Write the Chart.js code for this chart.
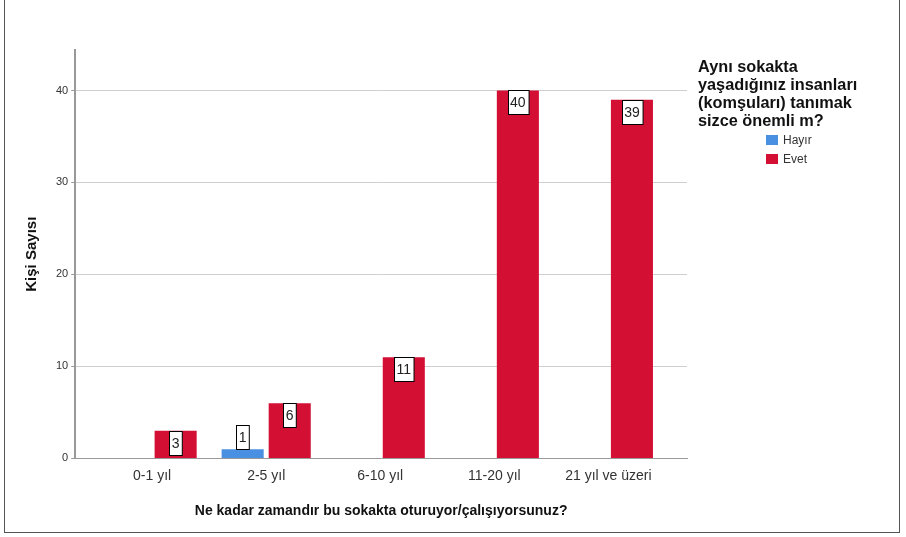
<!DOCTYPE html>
<html>
<head>
<meta charset="utf-8">
<script src="https://cdn.jsdelivr.net/npm/chart.js@4.4.1/dist/chart.umd.min.js"></script>
<style>
  html, body { margin: 0; padding: 0; background: #fff; }
  #wrap { position: relative; width: 906px; height: 537px; overflow: hidden; }
  #frame { position: absolute; left: 4px; top: -2px; width: 896px; height: 535px; border: 1px solid #555; box-sizing: border-box; pointer-events: none; }
  #legend { position: absolute; left: 698px; top: 57px; font-family: "Liberation Sans", Arial, sans-serif; color: #111; }
  #legend .title { font-weight: bold; font-size: 16.3px; line-height: 18px; }
  #legend .items { margin: 1px 0 0 68px; font-size: 12px; color: #333; }
  #legend .item { display: flex; align-items: center; height: 19px; }
  #legend .sw { width: 12px; height: 10px; margin-right: 5px; }
</style>
</head>
<body>
<div id="wrap">
  <canvas id="chart" width="906" height="537"></canvas>
  <div id="frame"></div>
  <div id="legend"></div>
</div>
<script>
// data
const categories = ['0-1 yıl', '2-5 yıl', '6-10 yıl', '11-20 yıl', '21 yıl ve üzeri'];
const hayir = [null, 1, null, null, null];
const evet = [3, 6, 11, 40, 39];
const yTicks = [0, 10, 20, 30, 40];

const legendTitle = ['Aynı sokakta', 'yaşadığınız insanları', '(komşuları) tanımak', 'sizce önemli m?'];
const colors = { hayir: '#4a90e2', evet: '#d40f34' };

// white boxed value labels, as SPSS draws them
const boxLabels = {
  id: 'boxLabels',
  afterDatasetsDraw(chart) {
    const ctx = chart.ctx;
    ctx.save();
    ctx.font = '14px "Liberation Sans", Arial, sans-serif';
    ctx.textAlign = 'center';
    ctx.textBaseline = 'middle';
    chart.data.datasets.forEach((ds, i) => {
      chart.getDatasetMeta(i).data.forEach((bar, j) => {
        const v = ds.data[j].y;
        if (v == null) return;
        const txt = String(v);
        const w = ctx.measureText(txt).width + 5, h = 24;
        const barH = bar.base - bar.y;
        let top = barH > h ? bar.y : bar.y - h;
        const left = Math.round(bar.x - w / 2) + 0.5;
        top = Math.round(top) + 0.5;
        ctx.fillStyle = '#fff';
        ctx.fillRect(left, top, w, h);
        ctx.strokeStyle = '#000';
        ctx.lineWidth = 1;
        ctx.strokeRect(left, top, w, h);
        ctx.fillStyle = '#222';
        ctx.fillText(txt, bar.x, top + h / 2 + 1);
      });
    });
    ctx.restore();
  }
};

const chart = new Chart(document.getElementById('chart'), {
  type: 'bar',
  data: {
    datasets: [
      { label: 'Hayır', data: hayir.map((v, i) => ({ x: i, y: v })), backgroundColor: colors.hayir },
      { label: 'Evet', data: evet.map((v, i) => ({ x: i, y: v })), backgroundColor: colors.evet }
    ]
  },
  options: {
    responsive: false,
    animation: false,
    layout: { padding: { left: 19, right: 219, top: 50, bottom: 13 } },
    categoryPercentage: 0.825,
    barPercentage: 0.894,
    plugins: { legend: { display: false }, tooltip: { enabled: false } },
    scales: {
      x: {
        type: 'linear',
        offset: false,
        min: -0.674, max: 4.689,
        afterBuildTicks(axis) { axis.ticks = categories.map((c, i) => ({ value: i })); },
        grid: { display: false, drawTicks: false },
        border: { color: '#999', width: 1 },
        ticks: { color: '#333', font: { family: '"Liberation Sans", Arial', size: 14 }, padding: 9,
          callback: v => categories[v] },
        title: { display: true, text: 'Ne kadar zamandır bu sokakta oturuyor/çalışıyorsunuz?', color: '#111',
          font: { family: '"Liberation Sans", Arial', size: 14, weight: 'bold' }, padding: { top: 10 } }
      },
      y: {
        min: 0, max: 44.4,
        afterBuildTicks(axis) { axis.ticks = yTicks.map(v => ({ value: v })); },
        grid: { color: ctx => ctx.tick && ctx.tick.value === 0 ? 'rgba(0,0,0,0)' : '#cfcfcf', tickLength: 4, tickColor: '#999' },
        border: { color: '#999', width: 2 },
        ticks: { color: '#333', font: { family: '"Liberation Sans", Arial', size: 11 }, padding: 3 },
        title: { display: true, text: 'Kişi Sayısı', color: '#111',
          font: { family: '"Liberation Sans", Arial', size: 15, weight: 'bold' }, padding: { bottom: 12 } }
      }
    }
  },
  plugins: [boxLabels]
});

// legend built from the datasets
const lg = document.getElementById('legend');
lg.innerHTML = '<div class="title">' + legendTitle.join('<br>') + '</div><div class="items">' +
  chart.data.datasets.map(d => '<div class="item"><span class="sw" style="background:' + d.backgroundColor + '"></span>' + d.label + '</div>').join('') + '</div>';
</script>
</body>
</html>
